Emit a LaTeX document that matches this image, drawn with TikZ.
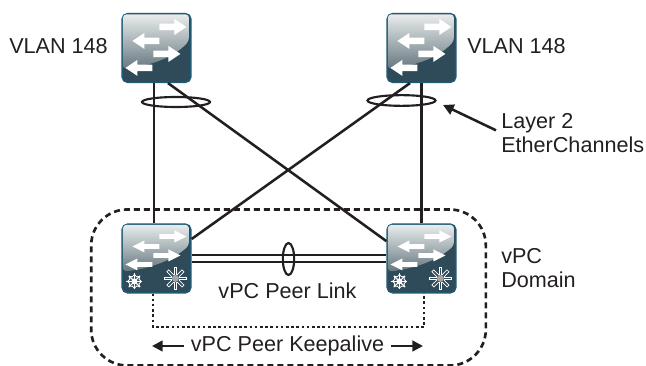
\documentclass[tikz,border=0pt]{standalone}
\usepackage{fontspec}
\setmainfont{Liberation Sans}
\usetikzlibrary{arrows.meta,shapes.geometric}
\definecolor{swframe}{HTML}{1F5A75}
\definecolor{swdark}{HTML}{2F4A58}
\definecolor{swlight}{HTML}{ECEFEF}
\definecolor{swmid}{HTML}{66787F}
\definecolor{inkline}{HTML}{231F20}

% one white arrow of a switch icon: node, x, y, direction, half height
\newcommand\swpointer[5]{%
\fill[white] (#1.north west) ++(#2,#3) ++(-13*#4,-.4*#5) -- ++(15*#4,0) -- ++(0,-.6*#5) -- ++(12*#4,#5) -- ++(-12*#4,#5) -- ++(0,-.6*#5) -- ++(-15*#4,0) -- cycle;
}
\newcommand\topicon[1]{%
\shade[top color=swlight, bottom color=swmid, rounded corners=2.5pt] (#1.north west) ++(1.5,1.5) -- ++(66,0) -- ++(0,26.5) .. controls +(-17.5,19) and +(23.5,-3) .. ++(-66,28) -- cycle;
\swpointer{#1}{51}{14}{1}{8}
\swpointer{#1}{25}{28}{-1}{8}
\swpointer{#1}{45}{41}{1}{8}
\swpointer{#1}{18}{55}{-1}{8}
}
\newcommand\lowicon[1]{%
\shade[top color=swlight, bottom color=swmid, rounded corners=2.5pt] (#1.north west) ++(1.5,1.5) -- ++(66,0) -- ++(0,20.5) .. controls +(-17.5,16) and +(23.5,-2) .. ++(-66,26) -- cycle;
\swpointer{#1}{51}{13}{1}{6}
\swpointer{#1}{25}{23}{-1}{6}
\swpointer{#1}{45}{32}{1}{6}
\swpointer{#1}{18}{41}{-1}{6}
\foreach \ang in {0,45,...,315} {
\draw[white,line width=.9pt] (#1.north west) ++(13,58) -- ++(\ang:8);
\draw[white,line width=.6pt] (#1.north west) ++(13,58) ++(\ang:4.5) ++(\ang+90:2.2) -- ++(\ang-41:3.3) -- ++(\ang-139:3.3);
\draw[white,line width=.5pt] (#1.north west) ++(54,55) ++(\ang+20:4) -- ++(\ang:7) -- ++(\ang-90:2.74) -- ++(\ang+180:7);
}
\fill[white] (#1.north west) ++(13,58) circle (3);
\fill[gray!70] (#1.north west) ++(54,55) circle (3.5);
}

\tikzset{
swbox/.style={draw=swframe, line width=1.1pt, fill=swdark, rounded corners=4pt, minimum size=51.5pt, inner sep=0pt},
lagring/.style={draw=inkline, ellipse, line width=1.6pt, inner sep=0pt},
linkline/.style={draw=inkline, line width=1.9pt},
lbl/.style={font=\fontsize{16.2}{17.8}\selectfont, text=inkline, inner sep=0pt, align=left},
tipline/.style={draw=inkline, line width=1.9pt, -{Triangle[length=8pt,width=8pt]}}
}

\begin{document}
\begin{tikzpicture}[x=0.75pt,y=-0.75pt]
\useasboundingbox (0,0) rectangle (646,366);

\node[draw=inkline, line width=2pt, dash pattern=on 4.5pt off 3pt, rounded corners=27pt, minimum width=296pt, minimum height=117pt, inner sep=0pt] (domain) at (288.5,287.5) {};

\node[swbox] (swA) at (156.5,48) {};
\node[swbox] (swB) at (421.5,48) {};
\node[swbox] (swC) at (156.5,258.5) {};
\node[swbox] (swD) at (421.5,258.5) {};
\topicon{swA}
\topicon{swB}
\lowicon{swC}
\lowicon{swD}

\draw[linkline] ([xshift=-1.9pt]swA.south) -- ([xshift=-1.9pt]swC.north);
\draw[linkline] (swB.south) -- (swD.north);
\draw[linkline] ([xshift=8.6pt]swA.south) -- ([yshift=13pt]swD.west);
\draw[linkline] ([xshift=-8.6pt]swB.south) -- ([yshift=14.6pt]swC.east);
\draw[linkline] ([yshift=2.6pt]swC.east) -- ([yshift=2.6pt]swD.west);
\draw[linkline] ([yshift=-2.6pt]swC.east) -- ([yshift=-2.6pt]swD.west);

\node[lagring, minimum width=51pt, minimum height=7.5pt] (lagA) at (176,102) {};
\node[lagring, minimum width=51pt, minimum height=8pt] (lagB) at (401.5,100.5) {};
\node[lagring, minimum width=8.5pt, minimum height=24pt] (lagC) at (288.5,259) {};

% keepalive path
\coordinate (keepmid) at (289,327);
\draw[inkline, line width=1.9pt, dash pattern=on 1.9pt off 2pt] ([xshift=-2.6pt]swC.south) |- (keepmid) -| ([xshift=2pt]swD.south);

\node[lbl, anchor=west] (vlanA) at (9,46) {VLAN 148};
\node[lbl, anchor=west] (vlanB) at (467,46) {VLAN 148};
\node[lbl, anchor=west, inner xsep=3.75pt] (etherlbl) at (496,133) {Layer 2\\EtherChannels};
\node[lbl, anchor=west] (domainlbl) at (501,268) {vPC\\Domain};
\node[lbl] (peerlbl) at (287.5,291) {vPC Peer Link};
\node[lbl, inner xsep=4.8pt] (keeplbl) at (287.5,346) {vPC Peer Keepalive};

\coordinate (ethertip) at (443,105);
\coordinate (keepL) at (152,346);
\coordinate (keepR) at (423,346);
\draw[tipline] ([yshift=2pt]etherlbl.west) -- (ethertip);
\draw[tipline] (keeplbl.west) -- (keepL);
\draw[tipline] (keeplbl.east) -- (keepR);
\end{tikzpicture}
\end{document}
